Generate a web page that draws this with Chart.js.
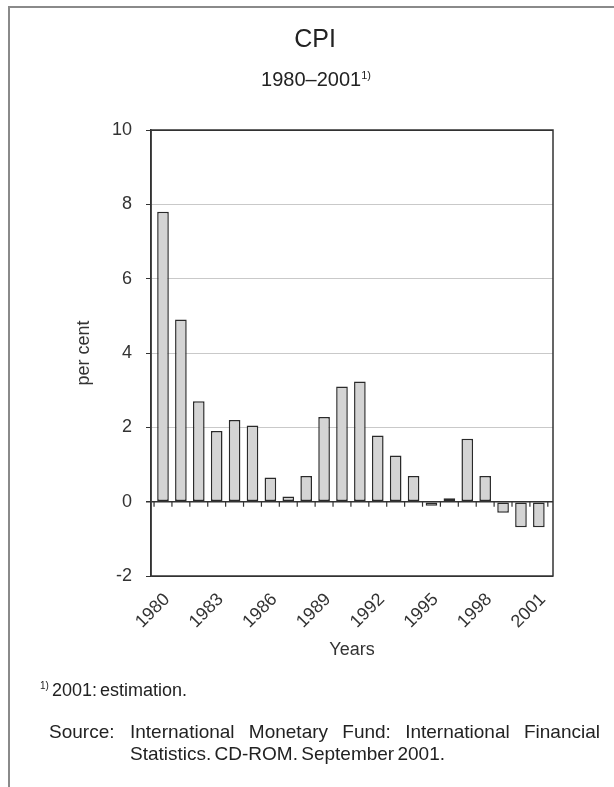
<!DOCTYPE html>
<html>
<head>
<meta charset="utf-8">
<script src="https://cdn.jsdelivr.net/npm/chart.js@4.4.1/dist/chart.umd.min.js"></script>
<style>
  html, body { margin: 0; padding: 0; background: #fff; }
  body { width: 614px; height: 787px; position: relative; overflow: hidden; font-family: "Liberation Sans", Arial, sans-serif; color: #222; }
  #frame { position: absolute; left: 8px; top: 6px; right: -4px; bottom: -4px; border-left: 2px solid #8a8a8a; border-top: 2px solid #8a8a8a; }
  canvas { position: absolute; left: 0; top: 0; }
  .txt { position: absolute; white-space: nowrap; line-height: 1; }
  #title { left: 315px; top: 26px; font-size: 25px; transform: translateX(-50%); }
  #subtitle { left: 316px; top: 69px; font-size: 20px; transform: translateX(-50%); }
  sup { font-size: 11px; vertical-align: 7px; }
  #note { left: 40px; top: 681px; font-size: 18px; word-spacing: -2px; }
  #note sup { font-size: 10px; vertical-align: 7px; }
  #srcLabel { left: 49px; top: 722px; font-size: 19px; }
  #src1 { left: 130px; top: 722px; width: 470px; font-size: 19px; white-space: normal; text-align: justify; text-align-last: justify; }
  #src2 { left: 130px; top: 744px; font-size: 19px; word-spacing: -2px; }
</style>
</head>
<body>
<div id="frame"></div>
<canvas id="cpiChart" width="614" height="787"></canvas>
<div class="txt" id="title">CPI</div>
<div class="txt" id="subtitle">1980–2001<sup>1)</sup></div>
<div class="txt" id="note"><sup>1)</sup> 2001: estimation.</div>
<div class="txt" id="srcLabel">Source:</div>
<div class="txt" id="src1">International Monetary Fund: International Financial</div>
<div class="txt" id="src2">Statistics. CD-ROM. September 2001.</div>
<script>
// dados
const years = [1980, 1981, 1982, 1983, 1984, 1985, 1986, 1987, 1988, 1989, 1990,
               1991, 1992, 1993, 1994, 1995, 1996, 1997, 1998, 1999, 2000, 2001];
const cpi = [7.8, 4.9, 2.7, 1.9, 2.2, 2.05, 0.65, 0.14, 0.69, 2.28, 3.1,
             3.23, 1.78, 1.24, 0.69, -0.11, 0.09, 1.69, 0.69, -0.3, -0.69, -0.69];
const yearTicks = [1980, 1983, 1986, 1989, 1992, 1995, 1998, 2001];

const dark = '#333';
const font = { family: 'Liberation Sans', size: 18 };

// moldura da área do gráfico
const boxPlugin = {
    id: 'box',
    afterDatasetsDraw(chart) {
        const { ctx, chartArea: a } = chart;
        ctx.save();
        ctx.strokeStyle = dark;
        ctx.lineWidth = 1.5;
        ctx.strokeRect(a.left, a.top, a.right - a.left, a.bottom - a.top);
        ctx.restore();
    }
};

// tracinhos no eixo zero, entre os anos
const zeroTicks = {
    id: 'zeroTicks',
    afterDatasetsDraw(chart) {
        const { ctx, scales: { x, y } } = chart;
        const y0 = y.getPixelForValue(0);
        ctx.save();
        ctx.strokeStyle = dark;
        ctx.lineWidth = 1.2;
        ctx.beginPath();
        for (let i = 0; i <= years.length; i++) {
            const px = x.getPixelForValue(years[0] - 0.5 + i);
            ctx.moveTo(px, y0);
            ctx.lineTo(px, y0 + 5);
        }
        ctx.stroke();
        ctx.restore();
    }
};

const ctx = document.getElementById('cpiChart').getContext('2d');

new Chart(ctx, {
    type: 'bar',
    data: {
        datasets: [{
            data: years.map((yr, i) => ({ x: yr, y: cpi[i] })),
            backgroundColor: '#d4d4d4',
            borderColor: '#2a2a2a',
            borderWidth: 1.5,
            borderSkipped: false,
            categoryPercentage: 1,
            barPercentage: 0.65
        }]
    },
    options: {
        responsive: false,
        animation: false,
        events: [],
        layout: { padding: { left: 70, right: 61, top: 130, bottom: 120 } },
        plugins: { legend: { display: false }, tooltip: { enabled: false } },
        scales: {
            x: {
                type: 'linear',
                offset: false,
                min: 1979.33,
                max: 2001.79,
                afterBuildTicks: s => { s.ticks = yearTicks.map(v => ({ value: v })); },
                afterFit: s => { s.height = 91; },
                grid: { display: false },
                border: { display: false },
                ticks: {
                    minRotation: 45,
                    maxRotation: 45,
                    padding: 5,
                    labelOffset: 4,
                    color: dark,
                    font: font,
                    callback: v => String(v)
                },
                title: {
                    display: true,
                    text: 'Years',
                    color: dark,
                    padding: { top: 0, bottom: 6 },
                    font: font
                }
            },
            y: {
                min: -2,
                max: 10,
                afterFit: s => { s.width = 81; },
                ticks: {
                    stepSize: 2,
                    padding: 14,
                    color: dark,
                    font: font
                },
                grid: {
                    color: c => (c.tick.value === 0 || c.tick.value === 10 || c.tick.value === -2) ? dark : '#c9c9c9',
                    lineWidth: c => (c.tick.value === 0 ? 1.5 : 1),
                    tickColor: dark,
                    tickLength: 5
                },
                border: { display: true, color: dark, width: 1.5 },
                title: {
                    display: true,
                    text: 'per cent',
                    color: dark,
                    padding: { top: 3, bottom: 0 },
                    font: font
                }
            }
        }
    },
    plugins: [boxPlugin, zeroTicks]
});
</script>
</body>
</html>
